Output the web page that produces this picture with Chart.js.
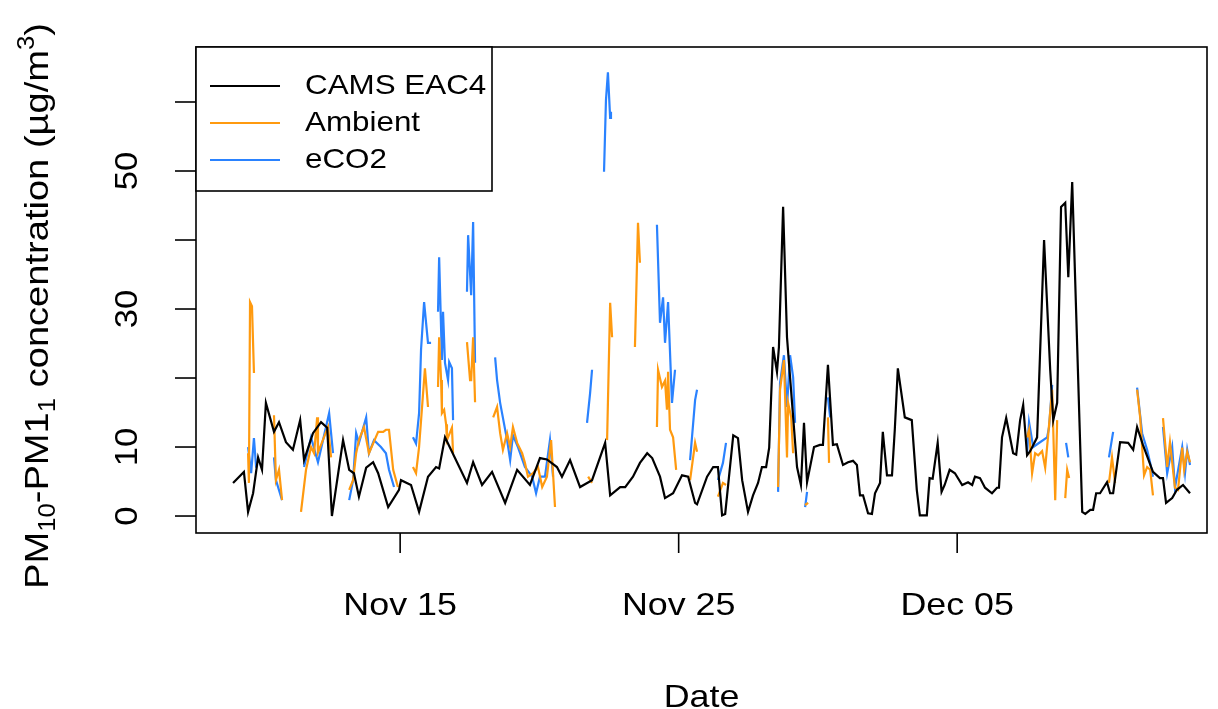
<!DOCTYPE html>
<html><head><meta charset="utf-8">
<script src="https://cdn.jsdelivr.net/npm/chart.js@4"></script>
<style>html,body{margin:0;padding:0;background:#fff}#wrap{width:1218px;height:709px}</style>
</head><body><div id="wrap"><canvas id="c"></canvas></div>
<script>
// days since Nov 1 (Nov 15 = 14), null = gap
const camsDay = [8.0,8.39,8.54,8.72,8.9,9.04,9.18,9.47,9.65,9.9,10.15,10.41,10.55,10.87,11.16,11.38,11.55,11.95,12.17,12.34,12.52,12.78,13.03,13.21,13.57,13.96,14.03,14.39,14.68,15.0,15.29,15.4,15.61,16.4,16.62,16.94,17.3,17.77,18.2,18.66,19.02,19.27,19.63,19.81,20.1,20.46,20.89,21.36,21.54,21.9,22.08,22.36,22.61,22.87,23.05,23.33,23.51,23.8,24.12,24.34,24.59,24.66,25.02,25.24,25.41,25.56,25.67,25.96,26.13,26.28,26.49,26.67,26.85,26.99,27.14,27.25,27.39,27.53,27.6,27.75,27.89,28.0,28.25,28.39,28.5,28.61,28.86,29.07,29.18,29.36,29.54,29.68,29.9,30.08,30.26,30.4,30.51,30.62,30.8,30.94,31.05,31.23,31.33,31.48,31.66,31.76,31.87,32.12,32.37,32.55,32.66,32.91,33.01,33.12,33.3,33.44,33.55,33.73,33.92,34.18,34.39,34.54,34.64,34.82,35.0,35.25,35.43,35.5,35.61,35.76,36.01,36.12,36.26,36.37,36.51,36.62,36.87,37.12,37.34,37.45,37.59,37.73,37.88,37.99,38.13,38.49,38.6,38.78,38.88,38.99,39.13,39.38,39.49,39.6,39.85,40.14,40.32,40.46,40.67,41.03,41.28,41.39,41.5,41.72,41.89,42.11,42.36];
const camsVal = [4.8,6.4,0.6,3.3,8.5,6.7,16.4,12.2,13.6,10.7,9.6,13.9,8.1,12,13.6,12.8,0,11,6.7,6.2,2.8,7,7.8,6.2,1.3,3.8,5.2,4.5,0.6,5.7,7.1,6.9,11.4,4.8,7.8,4.5,6.4,1.9,6.7,4.5,8.4,8.2,7.1,5.7,8.1,4.2,5.2,10.6,3.0,4.2,4.2,5.7,7.7,9.1,8.4,5.7,2.6,3.3,5.9,5.7,1.9,1.7,5.7,7.1,7.1,0.1,0.3,11.7,11.3,5.2,0.6,3.0,4.8,7.1,7.1,9.9,24.5,20.9,24.5,44.8,25.9,20.1,7.1,4.5,13.5,4.9,10,10.3,10.3,21.9,10.3,10.4,7.4,7.8,8,7.4,3.0,3.0,0.4,0.3,3.3,4.8,12.2,5.9,5.9,12.5,21.4,14.3,13.9,3.8,0.1,0.1,5.5,5.4,10.6,3.5,4.5,6.7,6.2,4.5,4.9,4.5,5.7,5.5,4.1,3.3,4.1,4.1,11.4,14.2,9.1,8.9,13.9,16.1,8.8,9.4,11.4,40,21.2,13.9,16.4,44.8,45.4,34.6,48.4,0.6,0.3,0.9,0.9,3.3,3.3,4.9,3.3,3.3,10.7,10.6,9.6,12.9,10.3,6.4,5.5,5.5,1.9,2.6,3.8,4.5,3.3];

const ambDay = [8.54,8.57,8.61,8.68,8.75,8.79,null,9.47,9.54,9.65,9.76,null,10.44,10.62,10.8,10.91,11.02,11.05,11.41,11.52,null,12.17,12.31,12.42,12.52,12.7,12.88,13.21,13.39,13.49,13.6,13.75,13.92,null,14.46,14.57,14.68,14.89,15.0,null,15.36,15.4,15.47,15.5,15.58,15.65,15.68,15.86,15.9,null,16.4,16.51,16.55,16.62,16.69,null,17.34,17.48,17.59,17.69,17.84,17.95,18.05,18.2,18.38,18.48,18.59,18.77,18.95,19.1,19.27,19.42,19.56,null,20.75,20.89,null,21.43,21.54,21.61,null,22.43,22.54,22.61,null,23.22,23.26,23.4,23.51,23.58,23.62,23.69,23.8,23.91,null,24.41,24.59,24.66,null,25.41,25.59,25.7,null,27.57,27.64,27.78,27.89,27.93,28.04,28.11,null,28.54,28.65,null,29.36,29.4,null,36.51,36.58,36.69,36.8,36.91,37.05,37.16,37.26,37.41,37.52,37.59,null,37.88,37.95,38.02,null,39.45,39.56,39.67,null,40.46,40.57,40.71,40.82,40.93,41.03,null,41.39,41.54,41.64,41.82,41.93,42.08,42.15,42.26,42.36];
const ambVal = [9.1,4.8,31,30.4,20.9,20.9,null,14.6,5.2,6.7,2.3,null,0.6,6.7,10,9.1,14.3,9.2,12.9,8.5,null,3.8,5.2,9.1,11,12.9,9.1,12.2,12.2,12.5,12.5,6.7,4.2,null,7.1,6.2,10,21.4,15.8,null,18.7,25.9,19.7,14.9,15.4,13.3,11,12.8,9.1,null,25.2,19.7,19.7,25.9,16.5,null,14.3,15.8,12,9.6,12,10,12.9,10.6,9.1,7.7,5.7,6.2,7.1,4.2,5.7,11,1.3,null,5.7,4.8,null,11,30.9,25.9,null,24.5,42.5,36.7,null,12.9,21.2,18.7,19.6,15.4,20.9,12.5,11.4,6.7,null,5.2,10.6,9.3,null,2.8,4.8,4.5,null,4.2,18.3,22.6,8.5,16.4,14.3,9.1,null,1.6,1.9,null,14.3,7.7,null,11.4,12.5,6.2,9.1,8.8,9.4,7,11.4,18.3,2.3,13.9,null,2.6,6.7,5.5,null,4.8,8.5,4.8,null,18.3,14.3,5.9,7.1,6.7,3.0,null,14.2,7.1,10.7,4.1,3.8,9.9,6.7,9.3,7.8];

const eco2Day = [8.54,8.65,8.75,8.83,null,9.47,9.54,9.76,null,10.55,10.8,11.05,11.45,11.59,null,12.17,12.31,12.42,12.52,12.78,12.88,13.06,13.31,13.49,13.6,13.78,null,14.46,14.57,14.68,14.75,14.86,15.0,15.11,null,15.36,15.4,15.43,15.5,15.54,15.61,15.72,15.76,15.86,15.9,null,16.4,16.44,16.55,16.62,16.69,null,17.41,17.48,17.59,17.84,17.95,18.05,18.23,18.48,18.74,18.88,19.02,19.2,19.38,19.49,null,20.71,20.82,20.89,null,21.32,21.39,21.46,21.54,21.57,null,23.22,23.33,23.44,23.51,23.62,23.76,23.87,null,24.41,24.59,24.66,null,25.41,25.59,25.7,null,27.57,27.64,27.78,27.89,28.0,28.11,28.18,null,28.54,28.61,null,29.36,29.44,null,36.51,36.58,36.73,36.87,37.23,37.3,37.41,null,37.91,37.99,null,39.45,39.6,null,40.46,40.64,40.82,40.93,41.03,null,41.39,41.54,41.72,41.82,42.08,42.18,42.26,42.36];
const eco2Val = [10,6.2,11.3,7,null,8.5,5.2,2.3,null,7.1,11.4,7.8,14.9,9.1,null,2.3,5.2,12,10.6,14.3,9.1,11,10,9.1,6.7,4.2,null,11.4,10.5,14.9,24.1,31,25.1,25.1,null,29.6,37.5,37.5,22.6,29.6,22.2,19.7,22.3,21.4,13.9,null,32.5,40.7,32,42.6,22.2,null,23,19.7,16.4,11,8.1,11.7,10,7.1,5.7,3.3,5.7,5.7,11,5.7,null,13.5,17.8,21.2,null,49.9,60.3,64.3,57.7,58.6,null,42.2,28,31.7,25.1,31,16.4,21.2,null,8.1,16.8,18.3,null,5.2,7.7,10.6,null,3.5,19.3,23.3,15.8,23.3,20.1,13.5,null,1.3,3.5,null,17.2,14.3,null,9.1,13.6,10,10.4,11.4,12.9,19,null,10.6,8.5,null,8.5,12.2,null,18.6,12,9.6,7.7,5.7,null,12.9,6.2,10,4.1,10,6.2,9.6,7.4];

const yTicks = [0,10,20,30,40,50,60];
const yLabels = {0:'0',10:'10',30:'30',50:'50'};
const xTicks = [14,24,34];
const xLabels = ['Nov 15','Nov 25','Dec 05'];
const seriesNames = ['CAMS EAC4','Ambient','eCO2'];
const seriesColors = ['#000000','#ff9a0f','#2a82ff'];

function pts(days, vals) {
  let last = 0;
  return days.map((d, i) => {
    if (d === null) return { x: last + 0.01, y: null };
    last = d;
    return { x: d, y: vals[i] };
  });
}

const FONT = 'Liberation Sans, Arial, sans-serif';
const STRETCH = 1.12;

// text drawn wider along its direction, like the R device output
function txt(ctx, s, x, y, rot, align, base) {
  ctx.save(); ctx.translate(x, y); if (rot) ctx.rotate(rot);
  ctx.scale(STRETCH, 1);
  ctx.textAlign = align || 'center'; ctx.textBaseline = base || 'alphabetic';
  ctx.fillText(s, 0, 0); ctx.restore();
}

const rAxes = {
  id: 'rAxes',
  afterDraw(chart) {
    const ctx = chart.ctx, a = chart.chartArea;
    const xs = chart.scales.x, ys = chart.scales.y;
    ctx.save();
    ctx.strokeStyle = '#000'; ctx.fillStyle = '#000'; ctx.lineWidth = 1.6;
    ctx.strokeRect(a.left, a.top, a.right - a.left, a.bottom - a.top);
    // y axis
    ctx.font = '31px ' + FONT;
    yTicks.forEach(v => {
      const y = ys.getPixelForValue(v);
      ctx.beginPath(); ctx.moveTo(a.left, y); ctx.lineTo(a.left - 21, y); ctx.stroke();
      if (yLabels[v] !== undefined) txt(ctx, yLabels[v], a.left - 59, y, -Math.PI / 2, 'center', 'alphabetic');
    });
    // x axis
    xTicks.forEach((v, i) => {
      const x = xs.getPixelForValue(v);
      ctx.beginPath(); ctx.moveTo(x, a.bottom); ctx.lineTo(x, a.bottom + 20); ctx.stroke();
      ctx.font = '32px ' + FONT;
      txt(ctx, xLabels[i], x, 615);
    });
    ctx.font = '32px ' + FONT;
    txt(ctx, 'Date', (a.left + a.right) / 2, 707);
    // y title with sub/superscripts
    const parts = [['PM',0],['10',1],['-PM1',0],['1',1],[' concentration (\u00b5g/m',0],['3',2],[')',0]];
    const big = '34px ' + FONT, small = '23px ' + FONT;
    let w = 0;
    parts.forEach(p => { ctx.font = p[1] ? small : big; w += ctx.measureText(p[0]).width; });
    ctx.save(); ctx.translate(48, 306); ctx.rotate(-Math.PI / 2); ctx.scale(STRETCH, 1);
    ctx.textAlign = 'left'; ctx.textBaseline = 'alphabetic';
    let cx = -w / 2;
    parts.forEach(p => {
      ctx.font = p[1] ? small : big;
      const dy = p[1] === 1 ? 7 : p[1] === 2 ? -14 : 0;
      ctx.fillText(p[0], cx, dy); cx += ctx.measureText(p[0]).width;
    });
    ctx.restore();
    // legend
    ctx.fillStyle = '#fff';
    ctx.fillRect(a.left, a.top, 296, 144);
    ctx.strokeRect(a.left, a.top, 296, 144);
    ctx.font = '28px ' + FONT;
    [86, 123, 160].forEach((y, i) => {
      ctx.strokeStyle = seriesColors[i]; ctx.lineWidth = 2.2;
      ctx.beginPath(); ctx.moveTo(a.left + 14, y); ctx.lineTo(a.left + 84, y); ctx.stroke();
      ctx.fillStyle = '#000'; txt(ctx, seriesNames[i], a.left + 109, y, 0, 'left', 'middle');
    });
    ctx.restore();
  }
};

const ds = (label, data, color) => ({
  label, data, borderColor: color, borderWidth: 2.2, pointRadius: 0,
  spanGaps: false, tension: 0, fill: false
});

new Chart(document.getElementById('c'), {
  type: 'line',
  data: {
    datasets: [
      ds(seriesNames[0], pts(camsDay, camsVal), seriesColors[0]),
      ds(seriesNames[1], pts(ambDay, ambVal), seriesColors[1]),
      ds(seriesNames[2], pts(eco2Day, eco2Val), seriesColors[2])
    ]
  },
  options: {
    responsive: true, maintainAspectRatio: false, animation: false,
    layout: { padding: { left: 196, top: 47, right: 11, bottom: 176 } },
    plugins: { legend: { display: false }, tooltip: { enabled: false } },
    scales: {
      x: { type: 'linear', min: 6.67, max: 42.97, display: false },
      y: { min: -2.46, max: 67.97, display: false }
    }
  },
  plugins: [rAxes]
});
</script></body></html>
